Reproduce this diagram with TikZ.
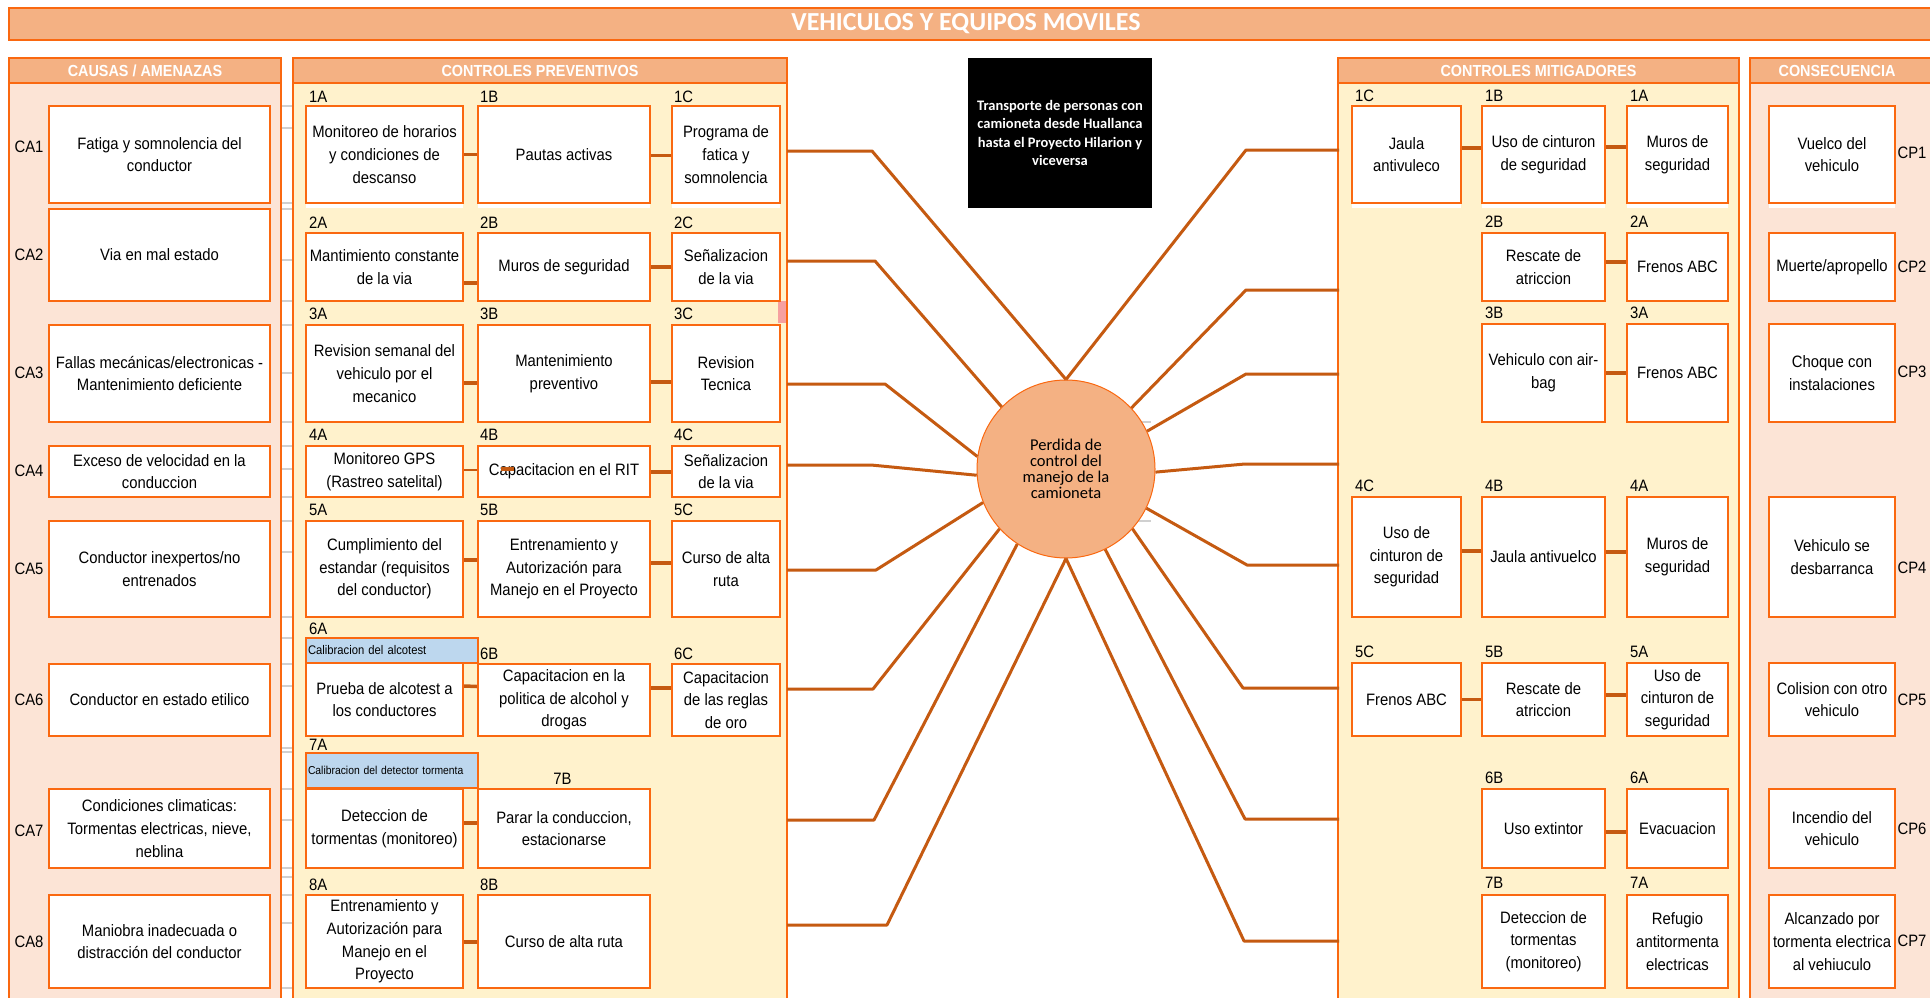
\documentclass[tikz,border=0pt]{standalone}
\usepackage{fontspec}
\setmainfont{Liberation Sans}[FakeStretch=0.9]
\newfontfamily\calfont{Carlito}

\definecolor{edge}{RGB}{250,104,16}
\definecolor{linkc}{RGB}{197,90,17}
\definecolor{peach}{RGB}{244,177,131}
\definecolor{pinkbg}{RGB}{252,228,214}
\definecolor{creambg}{RGB}{255,242,204}
\definecolor{calblue}{RGB}{189,215,238}
\definecolor{tickgray}{RGB}{208,208,208}
\definecolor{flag}{RGB}{246,160,160}

\tikzset{
  box/.style={draw=edge, line width=2.2pt, fill=white, align=center, inner sep=1pt,
    font=\fontsize{16.5}{22.7}\selectfont},
  code/.style={anchor=west, inner sep=0pt, font=\fontsize{16.5}{18}\selectfont},
  sidelbl/.style={inner sep=0pt, font=\fontsize{16.5}{18}\selectfont},
  calbox/.style={draw=edge, line width=2pt, fill=calblue, align=left, inner sep=2pt},
  link/.style={draw=linkc, line width=3.5pt},
  thinlink/.style={draw=linkc, line width=1.5pt},
  spoke/.style={draw=linkc, line width=3pt, line join=round},
  panel/.style={draw=edge, line width=2.5pt},
  hdr/.style={text=white, inner sep=0pt, font=\bfseries\fontsize{16}{18}\selectfont},
  tick/.style={draw=tickgray, line width=1.5pt},
}

% box: name, x1, y1, x2, y2, text
\newcommand\bx[6]{%
  \pgfmathsetmacro\bxW{#4-#2}\pgfmathsetmacro\bxH{#5-#3}%
  \pgfmathsetmacro\bxX{(#2+#4)/2}\pgfmathsetmacro\bxY{(#3+#5)/2}%
  \node[box, minimum width=\bxW pt, minimum height=\bxH pt] (#1) at (\bxX,\bxY) {#6};}
% code label: name, x, y, text
\newcommand\cd[4]{\node[code] (#1) at (#2,#3) {#4};}
% link between neighbouring boxes, shifted vertically
\newcommand\lnk[3]{\draw[link] ([yshift=#3pt]#1.east) -- ([yshift=#3pt]#2.west);}

\begin{document}
\begin{tikzpicture}[x=1pt,y=-1pt]
\useasboundingbox (0,0) rectangle (1930,998);
\clip (0,0) rectangle (1930,998);
\fill[white] (0,0) rectangle (1930,998);

% title bar
\draw[panel, line width=2pt, fill=peach] (9,8) rectangle (1945,40);
\node[text=white, inner sep=0pt, font=\calfont\bfseries\fontsize{26}{30}\selectfont]
  (title) at (966,24) {VEHICULOS Y EQUIPOS MOVILES};

% panels
\draw[panel, fill=pinkbg] (9,58) rectangle (281,1010);
\draw[panel, fill=peach] (9,58) rectangle (281,83);
\node[hdr] (hcausas) at (145,70.5) {CAUSAS / AMENAZAS};

\draw[panel, fill=creambg] (293,58) rectangle (787,1010);
\draw[panel, fill=peach] (293,58) rectangle (787,83);
\node[hdr] (hprev) at (540,70.5) {CONTROLES PREVENTIVOS};

\draw[panel, fill=creambg] (1338,58) rectangle (1739,1010);
\draw[panel, fill=peach] (1338,58) rectangle (1739,83);
\node[hdr] (hmitig) at (1538.5,70.5) {CONTROLES MITIGADORES};

\draw[panel, fill=pinkbg] (1750,58) rectangle (1945,1010);
\draw[panel, fill=peach] (1750,58) rectangle (1945,83);
\node[hdr] (hcons) at (1837,70.5) {CONSECUENCIA};

% grid remnants between the left panels
\foreach \t in {106,128,203,209,260,301,325,373,422,446,469,497,521,552,617,638,664,686,748,752,789,820,868,877,895,923,988}
  \draw[tick] (282,\t) -- (292,\t);
\draw[tick] (1138,422) -- (1151,422);
\draw[tick] (1138,521) -- (1151,521);
\fill[flag] (778,301) rectangle (785.5,323);

% white strips under the first row
\foreach \a/\b in {306/463,478/650,672/780,1352/1461,1482/1605,1627/1728,1769/1895}
  \fill[white] (\a,204) rectangle (\b,208);

% causes
\bx{ca1}{49}{106}{270}{203}{Fatiga y somnolencia del\\conductor}
\bx{ca2}{49}{209}{270}{301}{Via en mal estado}
\bx{ca3}{49}{325}{270}{422}{Fallas mecánicas/electronicas -\\Mantenimiento deficiente}
\bx{ca4}{49}{446}{270}{497}{Exceso de velocidad en la\\conduccion}
\bx{ca5}{49}{521}{270}{617}{Conductor inexpertos/no\\entrenados}
\bx{ca6}{49}{664}{270}{736}{Conductor en estado etilico}
\bx{ca7}{49}{789}{270}{868}{Condiciones climaticas:\\Tormentas electricas, nieve,\\neblina}
\bx{ca8}{49}{895}{270}{988}{Maniobra inadecuada o\\distracción del conductor}
\foreach \n/\y in {1/147,2/255,3/373,4/471,5/569,6/700,7/831,8/942}
  \node[sidelbl] (lca\n) at (29,\y) {CA\n};

% preventive controls
\bx{pA1}{306}{106}{463}{203}{Monitoreo de horarios\\y condiciones de\\descanso}
\bx{pB1}{478}{106}{650}{203}{Pautas activas}
\bx{pC1}{672}{106}{780}{203}{Programa de\\fatica y\\somnolencia}
\bx{pA2}{306}{233}{463}{301}{Mantimiento constante\\de la via}
\bx{pB2}{478}{233}{650}{301}{Muros de seguridad}
\bx{pC2}{672}{233}{780}{301}{Señalizacion\\de la via}
\bx{pA3}{306}{325}{463}{422}{Revision semanal del\\vehiculo por el\\mecanico}
\bx{pB3}{478}{325}{650}{422}{Mantenimiento\\preventivo}
\bx{pC3}{672}{325}{780}{422}{Revision\\Tecnica}
\bx{pA4}{306}{446}{463}{497}{Monitoreo GPS\\(Rastreo satelital)}
\bx{pB4}{478}{446}{650}{497}{Capacitacion en el RIT}
\bx{pC4}{672}{446}{780}{497}{Señalizacion\\de la via}
\bx{pA5}{306}{521}{463}{617}{Cumplimiento del\\estandar (requisitos\\del conductor)}
\bx{pB5}{478}{521}{650}{617}{Entrenamiento y\\Autorización para\\Manejo en el Proyecto}
\bx{pC5}{672}{521}{780}{617}{Curso de alta\\ruta}
\node[calbox, minimum width=172pt, minimum height=25pt, text width=168pt,
  font=\fontsize{12.5}{14}\selectfont] (cal6) at (392,650.5) {Calibracion del alcotest};
\bx{pA6}{306}{663}{463}{736}{Prueba de alcotest a\\los conductores}
\bx{pB6}{478}{664}{650}{736}{Capacitacion en la\\politica de alcohol y\\drogas}
\bx{pC6}{672}{664}{780}{736}{Capacitacion\\de las reglas\\de oro}
\node[calbox, minimum width=172pt, minimum height=35pt, text width=168pt,
  font=\fontsize{11.5}{13}\selectfont] (cal7) at (392,770.5) {Calibracion del detector tormenta};
\bx{pA7}{306}{789}{463}{868}{Deteccion de\\tormentas (monitoreo)}
\bx{pB7}{478}{789}{650}{868}{Parar la conduccion,\\estacionarse}
\bx{pA8}{306}{895}{463}{988}{Entrenamiento y\\Autorización para\\Manejo en el\\Proyecto}
\bx{pB8}{478}{895}{650}{988}{Curso de alta ruta}

\cd{cA1}{309}{97}{1A}\cd{cB1}{480}{97}{1B}\cd{cC1}{674}{97}{1C}
\cd{cA2}{309}{223}{2A}\cd{cB2}{480}{223}{2B}\cd{cC2}{674}{223}{2C}
\cd{cA3}{309}{314}{3A}\cd{cB3}{480}{314}{3B}\cd{cC3}{674}{314}{3C}
\cd{cA4}{309}{435}{4A}\cd{cB4}{480}{435}{4B}\cd{cC4}{674}{435}{4C}
\cd{cA5}{309}{510}{5A}\cd{cB5}{480}{510}{5B}\cd{cC5}{674}{510}{5C}
\cd{cA6}{309}{629}{6A}\cd{cB6}{480}{654}{6B}\cd{cC6}{674}{654}{6C}
\cd{cA7}{309}{745}{7A}\node[sidelbl] (cB7) at (562.5,779) {7B};
\cd{cA8}{309}{885}{8A}\cd{cB8}{480}{885}{8B}

\lnk{pA1}{pB1}{0}\lnk{pB1}{pC1}{-1}
\lnk{pA2}{pB2}{-16}\lnk{pB2}{pC2}{0}
\lnk{pA3}{pB3}{-9.5}\lnk{pB3}{pC3}{-8.5}
\draw[thinlink] ([yshift=1.5pt]pA4.east) -- ([yshift=1.5pt]pB4.west);
\draw[link] ([xshift=24pt,yshift=2.5pt]pB4.west) -- ([xshift=37pt,yshift=2.5pt]pB4.west);
\lnk{pB4}{pC4}{-0.5}
\lnk{pA5}{pB5}{9}\lnk{pB5}{pC5}{6}
\lnk{pA6}{pB6}{13.5}\lnk{pB6}{pC6}{12}
\lnk{pA7}{pB7}{5.5}
\lnk{pA8}{pB8}{-0.5}

% mitigating controls
\bx{mC1}{1352}{106}{1461}{203}{Jaula\\antivuleco}
\bx{mB1}{1482}{106}{1605}{203}{Uso de cinturon\\de seguridad}
\bx{mA1}{1627}{106}{1728}{203}{Muros de\\seguridad}
\bx{mB2}{1482}{233}{1605}{301}{Rescate de\\atriccion}
\bx{mA2}{1627}{233}{1728}{301}{Frenos ABC}
\bx{mB3}{1482}{324}{1605}{422}{Vehiculo con air-\\bag}
\bx{mA3}{1627}{324}{1728}{422}{Frenos ABC}
\bx{mC4}{1352}{497}{1461}{617}{Uso de\\cinturon de\\seguridad}
\bx{mB4}{1482}{497}{1605}{617}{Jaula antivuelco}
\bx{mA4}{1627}{497}{1728}{617}{Muros de\\seguridad}
\bx{mC5}{1352}{663}{1461}{736}{Frenos ABC}
\bx{mB5}{1482}{663}{1605}{736}{Rescate de\\atriccion}
\bx{mA5}{1627}{663}{1728}{736}{Uso de\\cinturon de\\seguridad}
\bx{mB6}{1482}{789}{1605}{868}{Uso extintor}
\bx{mA6}{1627}{789}{1728}{868}{Evacuacion}
\bx{mB7}{1482}{895}{1605}{988}{Deteccion de\\tormentas\\(monitoreo)}
\bx{mA7}{1627}{895}{1728}{988}{Refugio\\antitormenta\\electricas}

\cd{kC1}{1355}{96}{1C}\cd{kB1}{1485}{96}{1B}\cd{kA1}{1630}{96}{1A}
\cd{kB2}{1485}{222}{2B}\cd{kA2}{1630}{222}{2A}
\cd{kB3}{1485}{313}{3B}\cd{kA3}{1630}{313}{3A}
\cd{kC4}{1355}{486}{4C}\cd{kB4}{1485}{486}{4B}\cd{kA4}{1630}{486}{4A}
\cd{kC5}{1355}{652}{5C}\cd{kB5}{1485}{652}{5B}\cd{kA5}{1630}{652}{5A}
\cd{kB6}{1485}{778}{6B}\cd{kA6}{1630}{778}{6A}
\cd{kB7}{1485}{883}{7B}\cd{kA7}{1630}{883}{7A}

\lnk{mC1}{mB1}{6.5}\lnk{mB1}{mA1}{7.5}
\lnk{mB2}{mA2}{5}
\lnk{mB3}{mA3}{0}
\lnk{mC4}{mB4}{6}\lnk{mB4}{mA4}{5}
\lnk{mC5}{mB5}{0}\lnk{mB5}{mA5}{4.5}
\lnk{mB6}{mA6}{-3.5}

% consequences
\bx{cp1}{1769}{106}{1895}{203}{Vuelco del\\vehiculo}
\bx{cp2}{1769}{233}{1895}{301}{Muerte/apropello}
\bx{cp3}{1769}{324}{1895}{422}{Choque con\\instalaciones}
\bx{cp4}{1769}{497}{1895}{617}{Vehiculo se\\desbarranca}
\bx{cp5}{1769}{663}{1895}{736}{Colision con otro\\vehiculo}
\bx{cp6}{1769}{789}{1895}{868}{Incendio del\\vehiculo}
\bx{cp7}{1769}{895}{1895}{988}{Alcanzado por\\tormenta electrica\\al vehiuculo}
\foreach \n/\y in {1/153,2/267,3/372,4/568,5/700,6/829,7/941}
  \node[sidelbl] (lcp\n) at (1912,\y) {CP\n};

% hazard description
\node[fill=black, minimum width=184pt, minimum height=150pt, text=white, align=center,
  font=\calfont\bfseries\fontsize{14.5}{18.5}\selectfont] (topic) at (1060,133)
  {Transporte de personas con\\camioneta desde Huallanca\\hasta el Proyecto Hilarion y\\viceversa};

% top event
\node[circle, draw=edge, line width=1pt, fill=peach, minimum size=178pt, inner sep=0pt,
  align=center, font=\calfont\fontsize{16.5}{15.8}\selectfont] (ev) at (1066,469)
  {Perdida de\\control del\\manejo de la\\camioneta};

% spokes from the preventive panel to the top event
\foreach \y/\bend/\a [count=\i] in {151/872/90,261/875/136,384/885/172,465/871/184,570/876/202,689/873/222,820/874/237,925/887/270}{
  \coordinate (pl\i) at (787,\y);
  \draw[spoke] (pl\i) -- (\bend,\y) -- (ev.\a);
}
% spokes from the top event to the mitigating panel
\foreach \y/\bend/\a [count=\i] in {150/1246/90,290/1246/43,374/1246/25,464/1245/358,565/1247/334,688/1243/318,819/1245/296,941/1244/270}{
  \coordinate (pr\i) at (1339,\y);
  \draw[spoke] (ev.\a) -- (\bend,\y) -- (pr\i);
}
\end{tikzpicture}
\end{document}
